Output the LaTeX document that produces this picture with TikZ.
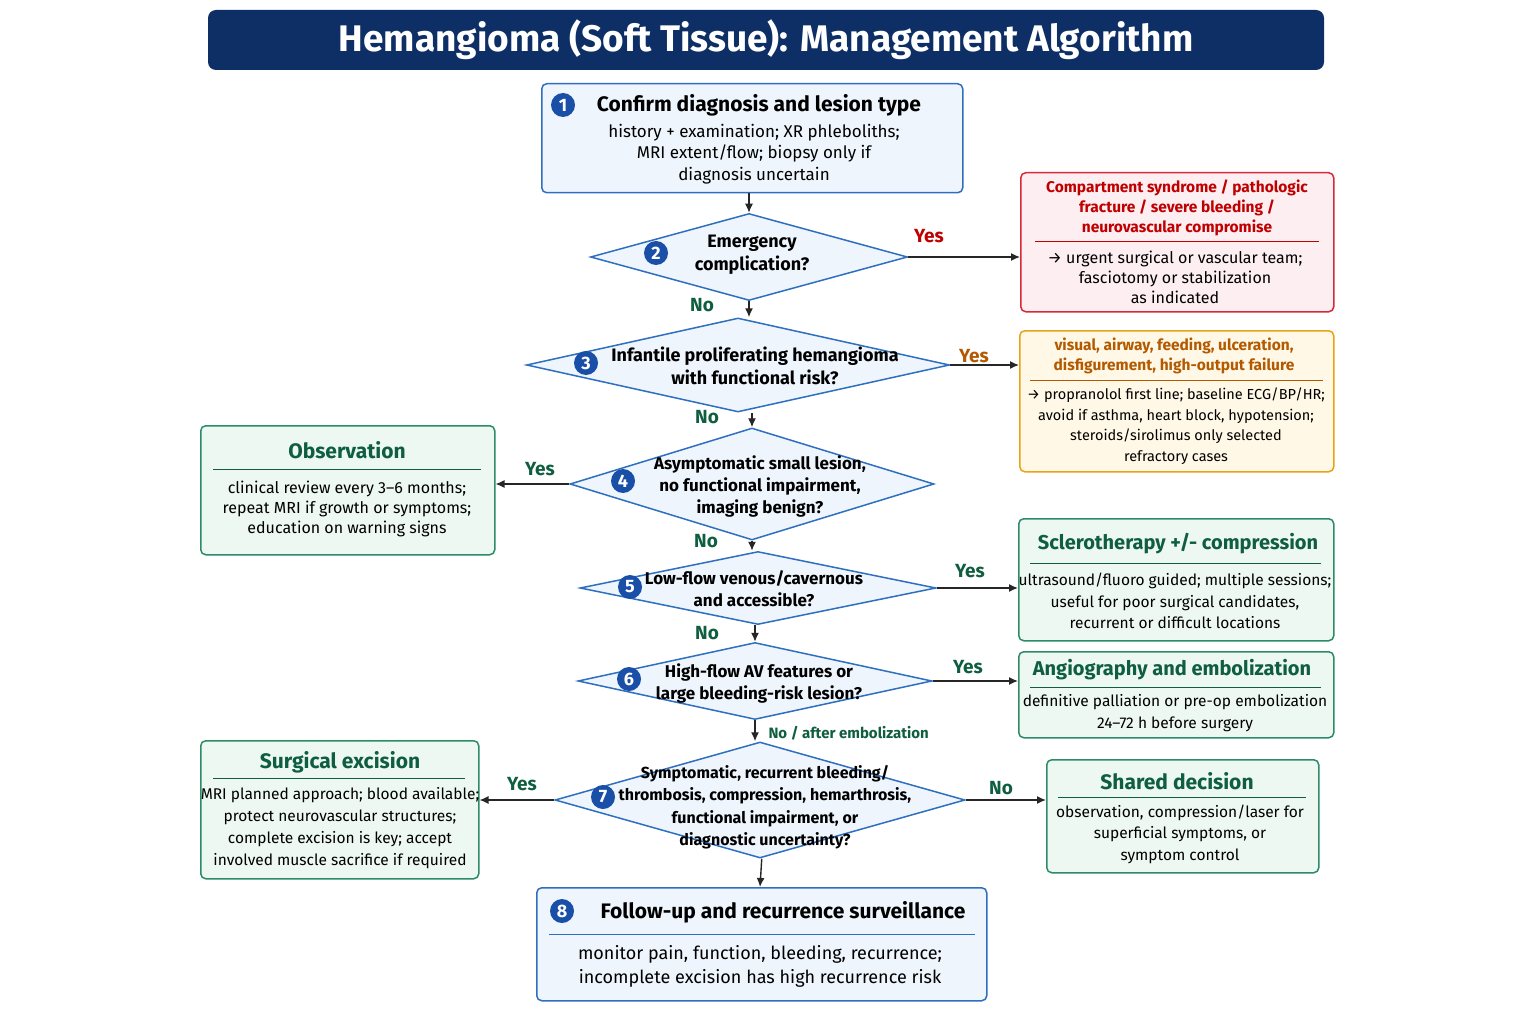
\documentclass[tikz,border=0pt]{standalone}
\usepackage{fontspec}
\setmainfont{Fira Sans}
\usetikzlibrary{shapes.geometric,arrows.meta}
\definecolor{navy}{HTML}{0D2F66}
\definecolor{bb}{HTML}{2F6FC0}
\definecolor{bf}{HTML}{EEF5FD}
\definecolor{circ}{HTML}{1A4FA8}
\definecolor{rb}{HTML}{D9283A}
\definecolor{rf}{HTML}{FDEEF1}
\definecolor{rt}{HTML}{C00000}
\definecolor{yb}{HTML}{E8A317}
\definecolor{yf}{HTML}{FFF8E6}
\definecolor{yt}{HTML}{B35900}
\definecolor{gb}{HTML}{2E8B6A}
\definecolor{gf}{HTML}{EDF8F3}
\definecolor{gt}{HTML}{0E5E3F}
\tikzset{
 box/.style={draw=#1,line width=1.5pt,rounded corners=5pt,anchor=north west,inner sep=0},
 dia/.style={diamond,draw=bb,fill=bf,line width=1.5pt,inner sep=0},
 num/.style={circle,fill=circ,text=white,minimum size=24pt,inner sep=0,font=\fontsize{18}{18}\selectfont\bfseries},
 arr/.style={-{Latex[length=9pt,width=8pt]},line width=1.4pt,color=black!85},
 yes/.style={font=\fontsize{19}{19}\selectfont\bfseries},
 body/.style={align=center,font=\fontsize{16}{20}\selectfont},
 dtxt/.style={align=center,font=\fontsize{18}{23}\selectfont\bfseries},
}
\newcommand{\bx}[6]{% name, color, fill, x1,y1,x2,y2 -> use #4 as "x1,y1" #5 w #6 h
 \node[box=#2,fill=#3,minimum width=#5pt,minimum height=#6pt] (#1) at (#4) {};}
\begin{document}
\begin{tikzpicture}[x=1pt,y=-1pt]
\useasboundingbox (0,0) rectangle (1536,1024);
\fill[white] (0,0) rectangle (1536,1024);
% title
\fill[navy,rounded corners=8pt] (208,10) rectangle (1324,70);
\node[text=white,font=\fontsize{37}{37}\selectfont\bfseries] (title) at (766,40) {Hemangioma (Soft Tissue): Management Algorithm};
% node 1
\bx{n1}{bb}{bf}{541,83}{421}{109}
\node[num] (c1) at (563,105) {1};
\node[font=\fontsize{21}{21}\selectfont\bfseries] at (759,105) {Confirm diagnosis and lesion type};
\node[body,font=\fontsize{17}{21.5}\selectfont] at (754,154) {history + examination; XR phleboliths;\\MRI extent/flow; biopsy only if\\diagnosis uncertain};
% diamonds
\node[dia,minimum width=317pt,minimum height=87pt] (d2) at (749,257) {};
\node[num] at (656,253) {2};
\node[dtxt] at (752,255) {Emergency\\complication?};
\node[dia,minimum width=423pt,minimum height=94pt] (d3) at (738,365) {};
\node[num] at (586,363) {3};
\node[dtxt] at (755,366) {Infantile proliferating hemangioma\\with functional risk?};
\node[dia,minimum width=364pt,minimum height=112pt] (d4) at (752,484) {};
\node[num] at (623,481) {4};
\node[dtxt,font=\fontsize{17}{22}\selectfont\bfseries] at (760,486) {Asymptomatic small lesion,\\no functional impairment,\\imaging benign?};
\node[dia,minimum width=356pt,minimum height=73pt] (d5) at (758,588) {};
\node[num] at (630,587) {5};
\node[dtxt,font=\fontsize{17}{22}\selectfont\bfseries] at (754,589) {Low-flow venous/cavernous\\and accessible?};
\node[dia,minimum width=354pt,minimum height=77pt] (d6) at (755,681) {};
\node[num] at (629,679) {6};
\node[dtxt,font=\fontsize{17}{22}\selectfont\bfseries] at (759,683) {High-flow AV features or\\large bleeding-risk lesion?};
\node[dia,minimum width=410pt,minimum height=116pt] (d7) at (760,800) {};
\node[num] at (603,797) {7};
\node[dtxt,font=\fontsize{16}{22.5}\selectfont\bfseries] at (765,807) {Symptomatic, recurrent bleeding/\\thrombosis, compression, hemarthrosis,\\functional impairment, or\\diagnostic uncertainty?};
% red box
\bx{red}{rb}{rf}{1020,172}{313}{139}
\node[body,text=rt,font=\fontsize{15.5}{20}\selectfont\bfseries] at (1177,208) {Compartment syndrome / pathologic\\fracture / severe bleeding /\\neurovascular compromise};
\draw[rt,line width=1pt] (1035,242) -- (1319,242);
\node[body] at (1175,277) {→ urgent surgical or vascular team;\\fasciotomy or stabilization\\as indicated};
% yellow box
\bx{yel}{yb}{yf}{1019,330}{314}{141}
\node[body,text=yt,font=\fontsize{15.5}{20}\selectfont\bfseries] at (1174,356) {visual, airway, feeding, ulceration,\\disfigurement, high-output failure};
\draw[yt,line width=1pt] (1030,380) -- (1323,380);
\node[body,font=\fontsize{14.5}{20.5}\selectfont] at (1176,426) {→ propranolol first line; baseline ECG/BP/HR;\\avoid if asthma, heart block, hypotension;\\steroids/sirolimus only selected\\refractory cases};
% observation
\bx{obs}{gb}{gf}{200,425}{294}{129}
\node[text=gt,font=\fontsize{21}{21}\selectfont\bfseries] at (347,450) {Observation};
\draw[gt,line width=1pt] (213,469) -- (481,469);
\node[body] at (347,509) {clinical review every 3–6 months;\\repeat MRI if growth or symptoms;\\education on warning signs};
% sclero
\bx{scl}{gb}{gf}{1018,518}{315}{122}
\node[text=gt,font=\fontsize{20}{20}\selectfont\bfseries] at (1178,544) {Sclerotherapy +/- compression};
\draw[gt,line width=1pt] (1030,563) -- (1321,563);
\node[body,font=\fontsize{15.5}{21.5}\selectfont] at (1175,601) {ultrasound/fluoro guided; multiple sessions;\\useful for poor surgical candidates,\\recurrent or difficult locations};
% angio
\bx{ang}{gb}{gf}{1018,651}{315}{86}
\node[text=gt,font=\fontsize{20}{20}\selectfont\bfseries] at (1172,670) {Angiography and embolization};
\draw[gt,line width=1pt] (1030,687) -- (1321,687);
\node[body,font=\fontsize{15.5}{21.5}\selectfont] at (1175,713) {definitive palliation or pre-op embolization\\24–72 h before surgery};
% surgical
\bx{sur}{gb}{gf}{200,740}{278}{138}
\node[text=gt,font=\fontsize{21}{21}\selectfont\bfseries] at (340,762) {Surgical excision};
\draw[gt,line width=1pt] (213,778) -- (465,778);
\node[body,font=\fontsize{15.5}{22}\selectfont] at (340,828) {MRI planned approach; blood available;\\protect neurovascular structures;\\complete excision is key; accept\\involved muscle sacrifice if required};
% shared
\bx{sha}{gb}{gf}{1046,759}{272}{113}
\node[text=gt,font=\fontsize{21}{21}\selectfont\bfseries] at (1177,781) {Shared decision};
\draw[gt,line width=1pt] (1058,797) -- (1306,797);
\node[body,font=\fontsize{15.5}{21.5}\selectfont] at (1180,834) {observation, compression/laser for\\superficial symptoms, or\\symptom control};
% node 8
\bx{n8}{bb}{bf}{536,887}{450}{113}
\node[num] at (562,911) {8};
\node[font=\fontsize{21}{21}\selectfont\bfseries] at (783,912) {Follow-up and recurrence surveillance};
\draw[bb,line width=1pt] (549,934) -- (975,934);
\node[body,font=\fontsize{18}{24}\selectfont] at (760,966) {monitor pain, function, bleeding, recurrence;\\incomplete excision has high recurrence risk};
% connectors
\draw[arr] (n1.south -| d2.north) -- (d2.north);
\draw[arr] (d2.east) -- (red.west |- d2.east);
\node[yes,text=rt] at (929,236) {Yes};
\draw[arr] (d2.south) -- (d3.north -| d2.south);
\node[yes,text=gt] at (702,305) {No};
\draw[arr] (d3.east) -- (yel.west |- d3.east);
\node[yes,text=yt] at (974,356) {Yes};
\draw[arr] (d3.south -| d4.north) -- (d4.north);
\node[yes,text=gt] at (707,417) {No};
\draw[arr] (d4.west) -- (obs.east |- d4.west);
\node[yes,text=gt] at (540,469) {Yes};
\draw[arr] (d4.south) -- (d5.north -| d4.south);
\node[yes,text=gt] at (706,541) {No};
\draw[arr] (d5.east) -- (scl.west |- d5.east);
\node[yes,text=gt] at (970,571) {Yes};
\draw[arr] (d5.south -| d6.north) -- (d6.north);
\node[yes,text=gt] at (707,633) {No};
\draw[arr] (d6.east) -- (ang.west |- d6.east);
\node[yes,text=gt] at (968,667) {Yes};
\draw[arr] (d6.south) -- (d7.north -| d6.south);
\node[text=gt,font=\fontsize{15}{15}\selectfont\bfseries,anchor=west] at (765,733) {No / after embolization};
\draw[arr] (d7.west) -- (sur.east |- d7.west);
\node[yes,text=gt] at (522,784) {Yes};
\draw[arr] (d7.east) -- (sha.west |- d7.east);
\node[yes,text=gt] at (1001,788) {No};
\draw[arr] (d7.south -| n8.north) -- (n8.north -| d7.south);
\end{tikzpicture}
\end{document}
